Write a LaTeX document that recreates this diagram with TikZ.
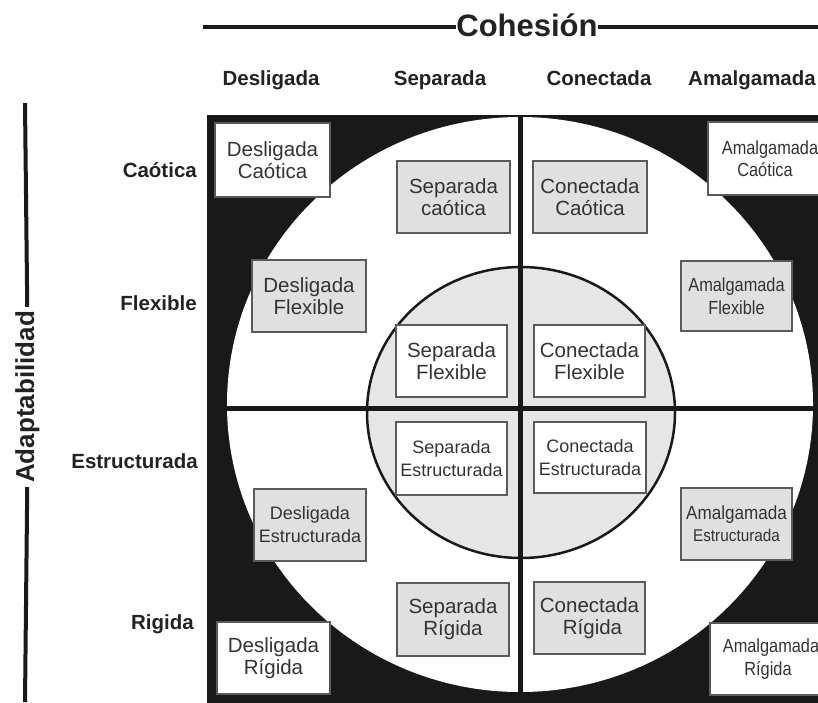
\documentclass[tikz,border=0pt]{standalone}
\usepackage{fontspec}
\setmainfont{Liberation Sans}
\usepackage{graphicx}
\definecolor{boxgray}{HTML}{E0E0E0}
\definecolor{ringgray}{HTML}{E6E6E6}
\definecolor{edgegray}{HTML}{5A5A5A}
\definecolor{txt}{HTML}{333333}
\definecolor{labtxt}{HTML}{222222}
\newcommand{\cond}[1]{\scalebox{0.86}[1]{#1}}
\begin{document}
\begin{tikzpicture}[x=1pt,y=-1pt,
 cell/.style={draw=edgegray,line width=1.2pt,inner sep=0pt,align=center,text=txt,font=\fontsize{20.5}{22}\selectfont},
 gcell/.style={cell,fill=boxgray},
 wcell/.style={cell,fill=white},
 smalltxt/.style={font=\fontsize{18}{23}\selectfont},
 narrowtxt/.style={font=\fontsize{19}{22.5}\selectfont},
 lab/.style={font=\bfseries\fontsize{20.5}{24}\selectfont,text=labtxt,inner sep=0pt},
 axisline/.style={line width=4.5pt,black!90},
 gridline/.style={line width=5pt,black!90}
 ]
\useasboundingbox (0,0) rectangle (818,702);
\begin{scope}
\clip (0,0) rectangle (818,702);
\fill[black!90] (207,115) rectangle (840,710);
\fill[white] (520,404.5) ellipse [x radius=293, y radius=287.5];
\filldraw[fill=ringgray, draw=black!90, line width=2.5pt] (521,412.5) ellipse [x radius=154, y radius=145.5];
\coordinate (hl) at (207,408);
\coordinate (hr) at (818,408);
\coordinate (vt) at (520,115);
\coordinate (vb) at (520,702);
\draw[gridline] (hl) -- (hr);
\draw[gridline] (vt) -- (vb);

% boxes
\node[wcell, minimum width=115pt, minimum height=74pt] (dc) at (272.5,160) {Desligada\\Caótica};
\node[gcell, minimum width=113pt, minimum height=72pt] (sc) at (453.5,197) {Separada\\caótica};
\node[gcell, minimum width=114pt, minimum height=72pt] (cc) at (590,197) {Conectada\\Caótica};
\node[wcell, narrowtxt, minimum width=124pt, minimum height=73pt] (ac) at (770,158.5) {\cond{Amalgamada}\\\cond{Caótica}\hspace*{10pt}};

\node[gcell, minimum width=114pt, minimum height=72pt] (df) at (309,296) {Desligada\\Flexible};
\node[gcell, narrowtxt, minimum width=111pt, minimum height=70pt] (af) at (736.5,296) {\cond{Amalgamada}\\\cond{Flexible}};
\node[wcell, minimum width=111pt, minimum height=72pt] (sf) at (451.5,361) {Separada\\Flexible};
\node[wcell, minimum width=111pt, minimum height=72pt] (cf) at (589.5,361) {Conectada\\Flexible};

\node[wcell, smalltxt, minimum width=111pt, minimum height=73pt] (se) at (451.5,458.5) {Separada\\Estructurada};
\node[wcell, smalltxt, minimum width=112pt, minimum height=71pt] (ce) at (590,457.5) {Conectada\\Estructurada};
\node[gcell, smalltxt, minimum width=112pt, minimum height=72pt] (de) at (310,525) {Desligada\\Estructurada};
\node[gcell, font=\fontsize{19}{22}\selectfont, minimum width=111pt, minimum height=72pt] (ae) at (736.5,524) {\scalebox{0.9}[1]{Amalgamada}\\\scalebox{0.9}[1]{\fontsize{17}{20}\selectfont Estructurada}};

\node[gcell, minimum width=112pt, minimum height=73pt] (sr) at (453,619.5) {Separada\\Rígida};
\node[gcell, minimum width=111pt, minimum height=72pt] (cr) at (589.5,618) {Conectada\\\hspace*{6pt}Rígida};
\node[wcell, minimum width=113pt, minimum height=72pt] (dr) at (273.5,658) {Desligada\\Rígida};
\node[wcell, narrowtxt, minimum width=122pt, minimum height=72pt] (ar) at (771,659) {\cond{Amalgamada}\\\cond{Rígida}\hspace*{6pt}};
\end{scope}

% top axis
\coordinate (cl) at (203,27);
\coordinate (cr2) at (818,27);
\draw[axisline] (cl) -- (cr2);
\node[lab, font=\bfseries\fontsize{31}{34}\selectfont, fill=white, anchor=base] (coh) at (527,36) {Cohesión};

% column labels
\node[lab, anchor=base] (c1) at (271,85) {Desligada};
\node[lab, anchor=base] (c2) at (440,85) {Separada};
\node[lab, anchor=base] (c3) at (599,85) {Conectada};
\node[lab, anchor=base] (c4) at (752,85) {Amalgamada};

% row labels
\node[lab, anchor=base east] (r1) at (197,177) {Caótica};
\node[lab, anchor=base east] (r2) at (197,310) {Flexible};
\node[lab, anchor=base east] (r3) at (198,468) {Estructurada};
\node[lab, anchor=base east] (r4) at (194,629) {Rigida};

% left axis
\node[lab, font=\bfseries\fontsize{26}{30}\selectfont, rotate=90, anchor=base] (adapt) at (34,397) {Adaptabilidad};
\coordinate (at) at (25,103);
\coordinate (ab) at (25,702);
\draw[line width=4pt, black!90, shorten >=4pt] (at) -- (adapt.east);
\draw[line width=4pt, black!90, shorten <=4pt] (adapt.west) -- (ab);
\end{tikzpicture}
\end{document}
